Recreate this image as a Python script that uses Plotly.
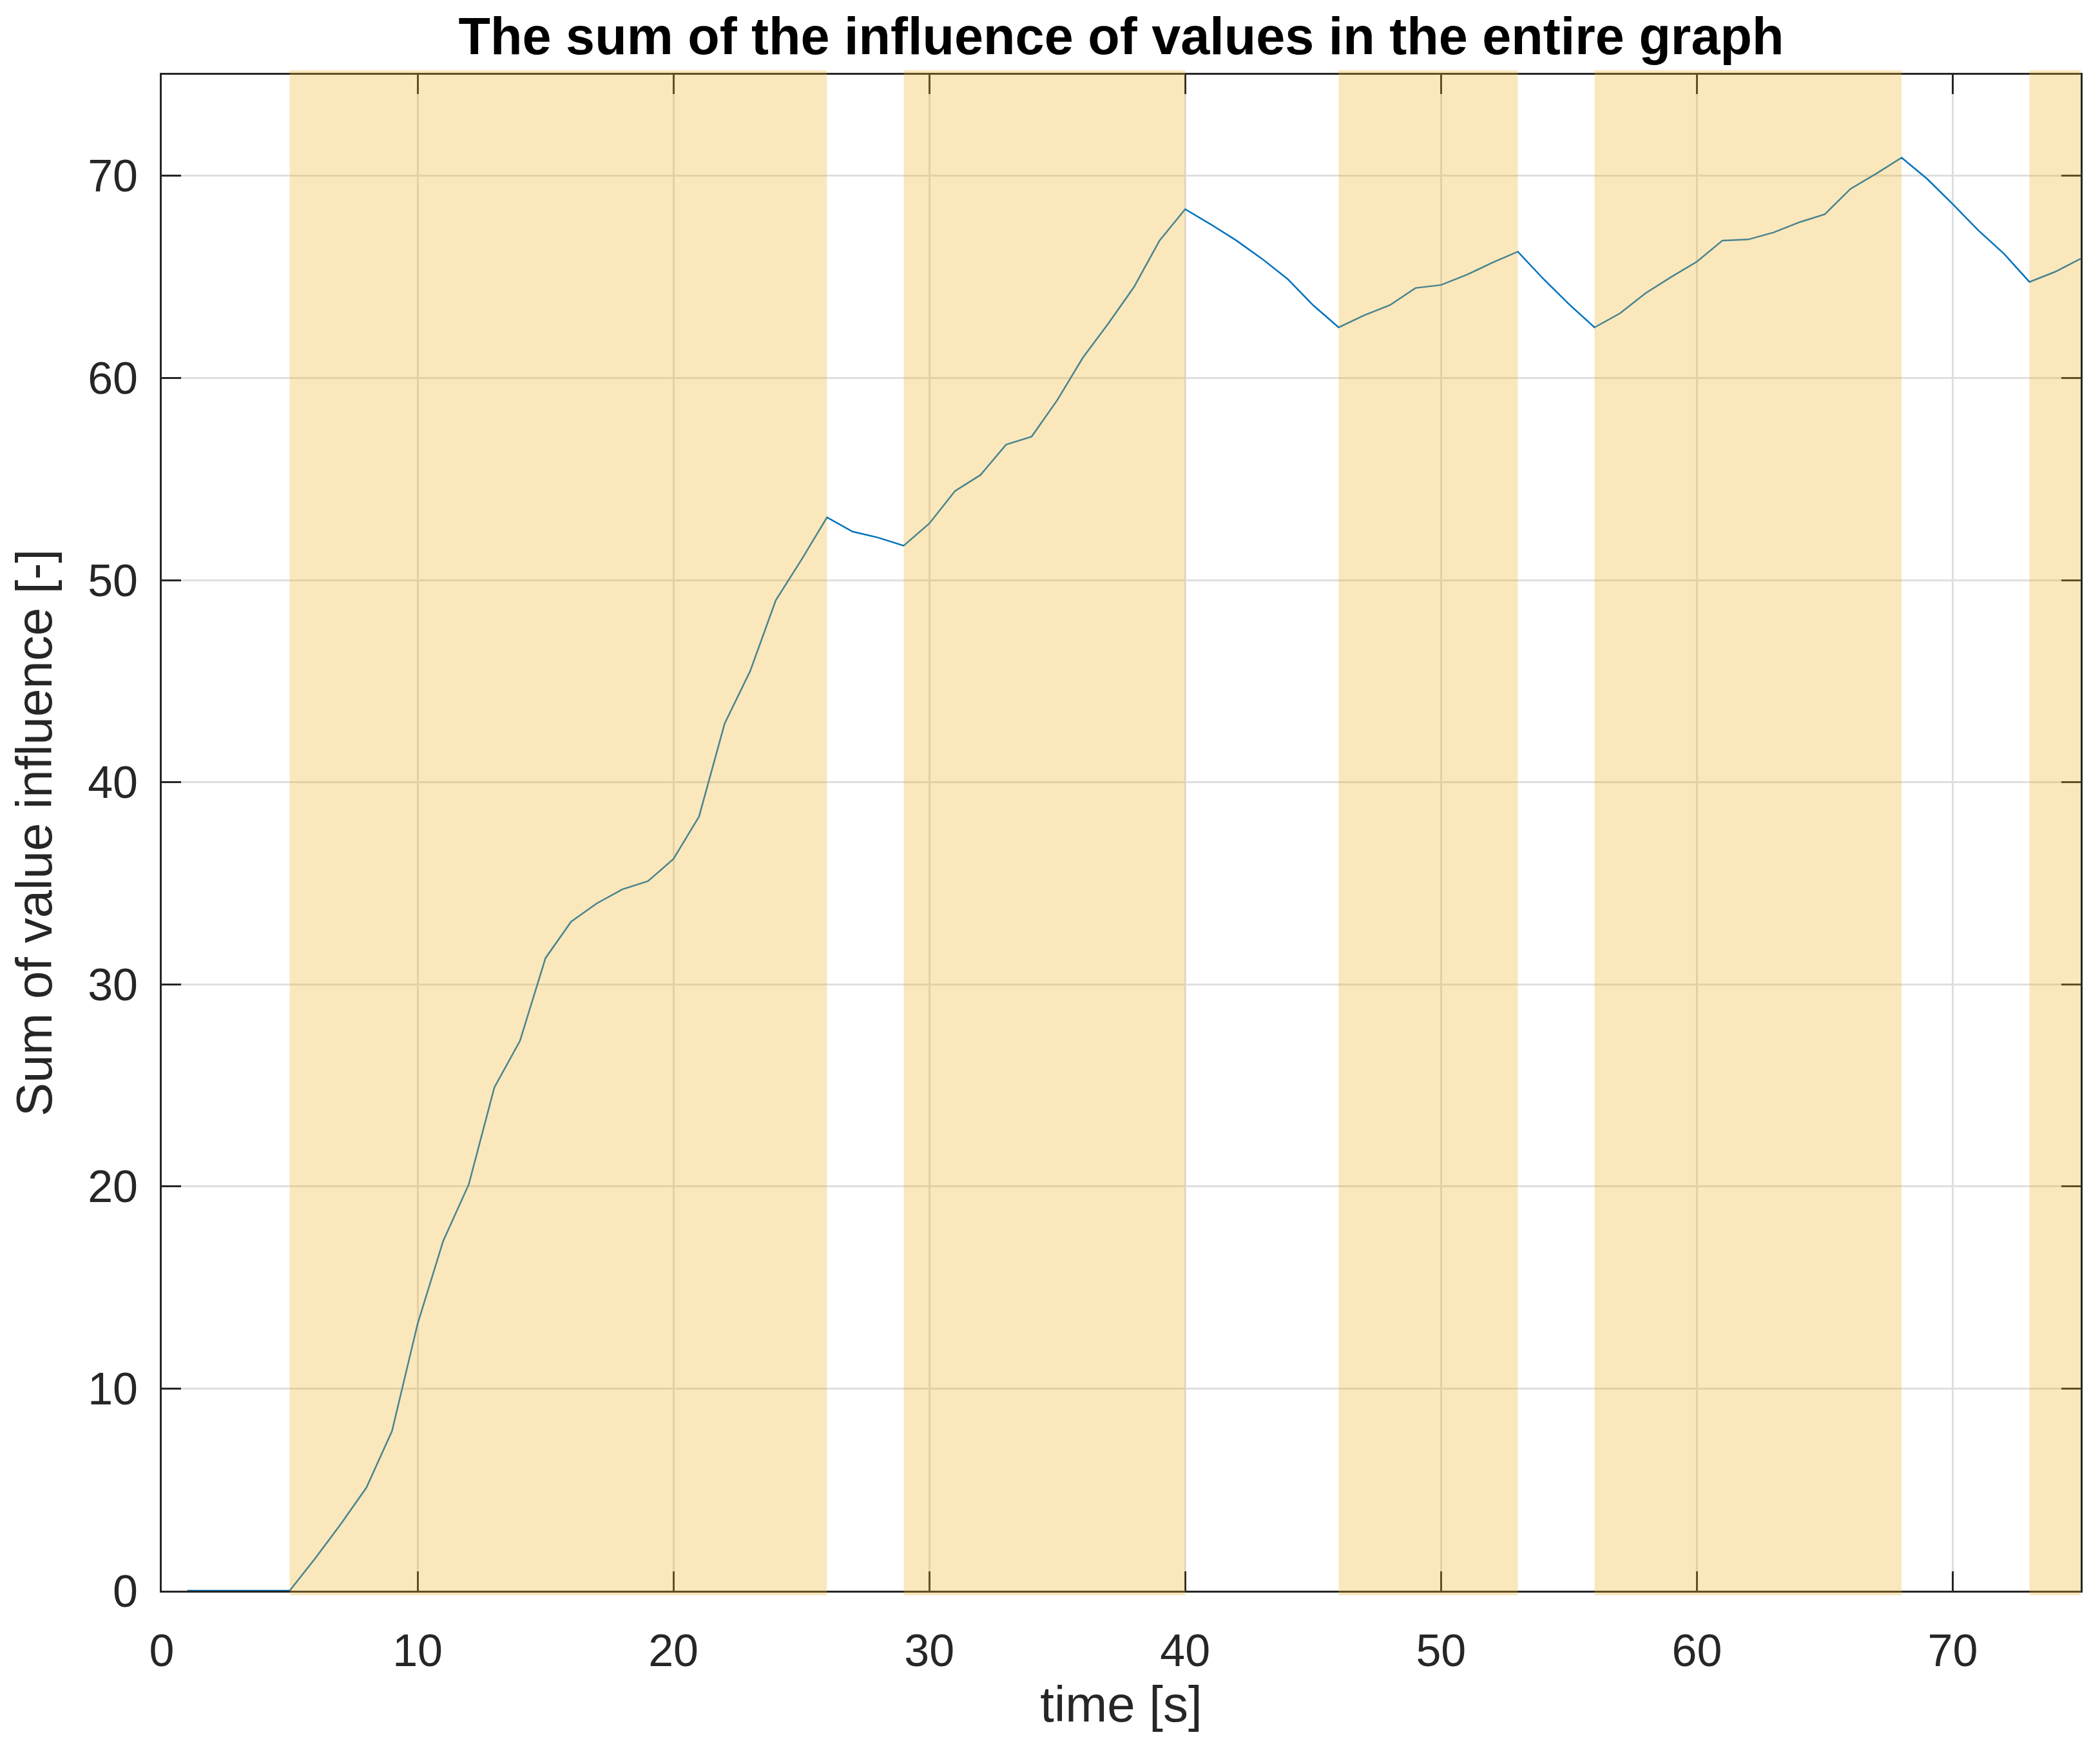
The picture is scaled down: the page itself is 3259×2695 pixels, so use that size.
import plotly.graph_objects as go

# time [s] and summed influence, read at whole seconds
time_s = [1, 2, 3, 4, 5, 6, 7, 8, 9, 10, 11, 12, 13, 14, 15, 16, 17, 18, 19, 20,
          21, 22, 23, 24, 25, 26, 27, 28, 29, 30, 31, 32, 33, 34, 35, 36, 37, 38, 39, 40,
          41, 42, 43, 44, 45, 46, 47, 48, 49, 50, 51, 52, 53, 54, 55, 56, 57, 58, 59, 60,
          61, 62, 63, 64, 65, 66, 67, 68, 69, 70, 71, 72, 73, 74, 75]
influence = [0, 0, 0, 0, 0, 1.6, 3.3, 5.1, 7.9, 13.2, 17.3, 20.1, 24.9, 27.2, 31.3, 33.1, 34.0, 34.7, 35.1, 36.2,
             38.3, 42.9, 45.5, 49.0, 51.0, 53.1, 52.4, 52.1, 51.7, 52.8, 54.4, 55.2, 56.7, 57.1, 58.9, 61.0, 62.7, 64.5, 66.8, 68.35,
             67.6, 66.8, 65.9, 64.9, 63.6, 62.5, 63.1, 63.6, 64.45, 64.6, 65.1, 65.7, 66.25, 64.9, 63.65, 62.5, 63.2, 64.2, 65.0, 65.75,
             66.8, 66.85, 67.2, 67.7, 68.1, 69.35, 70.1, 70.9, 69.85, 68.6, 67.3, 66.15, 64.75, 65.25, 65.9]

# intervals highlighted in the background
band_start = [5, 29, 46, 56, 73]
band_end = [26, 40, 53, 68, 76]

x_ticks = [0, 10, 20, 30, 40, 50, 60, 70]
y_ticks = [0, 10, 20, 30, 40, 50, 60, 70]

FONT = "Liberation Sans, Arial, Helvetica, sans-serif"
AXIS_COL = "#262626"

fig = go.Figure()
fig.add_trace(
    go.Scatter(
        x=time_s,
        y=influence,
        mode="lines",
        line=dict(color="#0072BD", width=2.5),
        showlegend=False,
    )
)

for x0, x1 in zip(band_start, band_end):
    fig.add_shape(
        type="rect",
        xref="x",
        yref="y domain",
        x0=x0,
        x1=min(x1, 75),
        y0=-0.003,
        y1=1.003,
        fillcolor="rgb(237,177,32)",
        opacity=0.3,
        line_width=0,
        layer="above",
    )

axis_common = dict(
    showline=True,
    linecolor=AXIS_COL,
    linewidth=3,
    mirror="ticks",
    ticks="inside",
    ticklen=30,
    tickwidth=3,
    tickcolor=AXIS_COL,
    showgrid=True,
    gridcolor="#dfdfdf",
    gridwidth=2.5,
    zeroline=False,
    tickfont=dict(family=FONT, size=70, color=AXIS_COL),
)

fig.update_xaxes(
    range=[0, 75],
    tickvals=x_ticks,
    ticklabelstandoff=30,
    title=dict(text="time [s]", font=dict(family=FONT, size=78, color=AXIS_COL), standoff=12),
    **axis_common,
)
fig.update_yaxes(
    range=[0, 75],
    tickvals=y_ticks,
    ticklabelstandoff=20,
    title=dict(text="Sum of value influence [-]", font=dict(family=FONT, size=78, color=AXIS_COL), standoff=30),
    **axis_common,
)

fig.update_layout(
    width=3259,
    height=2695,
    margin=dict(l=243, r=38, t=108, b=235),
    plot_bgcolor="white",
    paper_bgcolor="white",
    title=dict(
        text="<b>The sum of the influence of values in the entire graph</b>",
        font=dict(family=FONT, size=81, color="black"),
        xref="paper",
        x=0.5,
        xanchor="center",
        y=0.993,
        yanchor="top",
    ),
)

fig.write_html("out.html")
